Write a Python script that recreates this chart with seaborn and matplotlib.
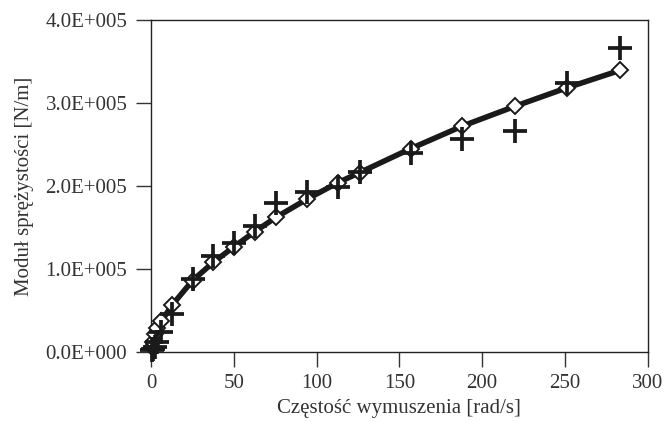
import numpy as np
import pandas as pd
import seaborn as sns
import matplotlib.pyplot as plt
from matplotlib.ticker import FuncFormatter

# czestosc wymuszenia [rad/s]
omega = [0.63, 1.26, 2.5, 3.8, 6.3, 12.6, 25.1, 37.7, 50.3, 62.8, 75.4,
         94.2, 113, 126, 157, 188, 220, 251, 283]
# modul sprezystosci - model (romby)
k_model = [6000, 12000, 22000, 29000, 37000, 56000, 86000, 108000, 127000,
           145000, 162000, 184000, 204000, 216000, 245000, 272000, 296000,
           318000, 339000]
# modul sprezystosci - pomiar (krzyzyki)
k_pomiar = [2000, 4000, 6000, 12000, 24000, 46000, 88000, 116000, 131000,
            152000, 179000, 193000, 199000, 217000, 240000, 256000, 266000,
            324000, 366000]

df = pd.DataFrame({'omega': omega, 'model': k_model, 'pomiar': k_pomiar})

sns.set_style('ticks')
plt.rcParams['font.family'] = ['Liberation Serif', 'DejaVu Serif']

fig = plt.figure(figsize=(6.65, 4.22), dpi=100)
ax = fig.add_axes([0.227, 0.166, 0.747, 0.787])

sns.lineplot(x='omega', y='model', data=df, ax=ax, color='#1a1a1a', lw=4,
             marker='D', markersize=8.5, markerfacecolor='white',
             markeredgecolor='#1a1a1a', markeredgewidth=1.4, zorder=3,
             clip_on=False)
sns.scatterplot(x='omega', y='pomiar', data=df, ax=ax, marker='+', s=280,
                color='#1a1a1a', linewidth=2.7, zorder=4, clip_on=False)

ax.set_xlim(0, 300)
ax.set_ylim(0, 400000)
ax.set_xticks(np.arange(0, 301, 50))
ax.set_yticks(np.arange(0, 400001, 100000))
ax.yaxis.set_major_formatter(FuncFormatter(
    lambda v, p: '{:.1f}E+{:03d}'.format(v / 1e5 if v else 0, 5 if v else 0)))
ax.tick_params(labelsize=15, length=11, width=1, color='#333333',
               colors='#333333', pad=5)
ax.tick_params(axis='y', pad=6)
ax.set_xlabel('Częstość wymuszenia [rad/s]', fontsize=15, color='#333333',
              labelpad=4)
ax.set_ylabel('Moduł sprężystości [N/m]', fontsize=15, color='#333333',
              labelpad=8)
for s in ax.spines.values():
    s.set_linewidth(1)
    s.set_color('#222222')

fig.savefig('out.png', dpi=100)
